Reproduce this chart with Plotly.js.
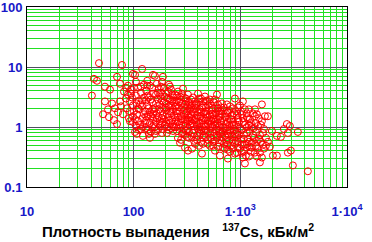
<!DOCTYPE html>
<html>
<head>
<meta charset="utf-8">
<script src="https://cdn.plot.ly/plotly-3.0.1.min.js"></script>
<style>html,body{margin:0;padding:0;background:#fff;}#chart{width:372px;height:242px;}</style>
</head>
<body>
<div id="chart"></div>
<script>
// Cs-137 deposition density, kBq/m2 (x)
const csDensity = [
47.3,42.4,45.3,40.6,53.8,60.0,69.8,74.4,53.8,57.5,66.8,62.7,51.6,58.7,65.4,74.4,71.3,79.4,69.8,77.7,
81.1,76.0,84.7,88.4,98.5,103,120,158,188,152,88.4,94.3,92.3,98.5,86.5,100.6,90.3,98.5,105,110,
117,125,112,120,128,107,122,115,110,107,122,115,105,125,96.4,84.7,112,117,103,128,
134,142,131,152,139,149,134,158,142,136,152,142,158,136,142,158,165,172,162,169,
176,165,172,162,176,169,149,131,155,145,184,192,180,196,184,201,188,180,205,192,
184,205,184,205,219,210,229,219,239,214,234,224,244,214,234,224,234,244,201,224,
290,260,272,255,284,266,296,255,278,303,260,290,272,309,260,272,303,323,309,330,
316,337,309,330,316,337,323,303,330,284,249,296,323,352,360,376,352,384,360,392,
352,384,368,401,360,392,368,401,428,410,446,418,456,428,446,410,437,456,418,446,
446,437,410,384,466,487,519,476,508,542,487,530,497,554,476,519,566,497,519,578,
604,578,617,591,630,566,617,578,630,591,644,604,554,630,542,672,644,687,658,702,
672,717,658,733,687,749,672,733,702,765,799,765,834,782,852,799,871,816,782,852,
816,890,890,765,1057,949,1013,929,1057,970,1104,991,929,1080,1013,949,1104,991,1057,1104,
1152,1203,1178,1256,1152,1230,1312,1178,1284,1152,1256,1203,1035,1370,1593,1430,1700,1813,1593,1461,
1663,1400,1526,1737,1430,1628,1461,1370,1593,1526,1813,1340,2020,2202,2732,2914,3463,2202,2400,2792,
2792,2978,3109,4296,2561,1977,1893,249,323,384,476,566,702,834,949,278,224,188,152,131,
345,428,530,658,909,201,249,309,476,733,
94.3,100.6,107,92.3,105,120,125,112,98.5,117,110,122,103,92.3,
136,145,162,139,152,131,149,165,172,155,134,169,145,162,139,176,131,
180,192,210,229,201,219,239,184,210,229,196,219,244,188,214,239,201,234,180,214,
255,278,303,266,290,316,272,296,260,323,284,309,266,296,337,255,290,316,278,330,249,337,284,
345,376,410,446,368,401,437,345,376,410,456,352,392,428,368,410,456,352,392,428,376,456,345,418,
476,519,566,617,497,542,591,476,519,630,554,497,604,476,530,578,630,497,554,604,476,530,578,497,554,617,591,
749,852,702,782,871,658,733,816,672,765,871,717,799,890,687,765,834,717,782,890,672,749,852,717,799,
991,1104,909,1035,1152,949,1080,1203,909,1035,1152,970,1080,1203,909,1035,1152,949,1080,1230,929,1128,1230,
1312,1493,1284,1559,1400,1628,1493,1340,1559,1400,1663,1284,1526,1430,1737,1370
];
// measured value (y)
const measured = [
11.6,6.35,5.89,3.34,4.70,4.19,6.85,5.26,2.67,1.97,2.05,2.47,1.63,1.46,1.30,2.67,1.76,1.63,1.12,10.8,
3.89,2.21,2.98,3.47,7.68,7.39,9.28,7.12,6.85,7.39,4.88,4.19,2.67,2.29,2.05,1.83,1.40,1.21,5.67,4.52,
3.74,3.10,2.77,2.21,1.83,1.63,1.40,1.08,1.25,0.767,0.711,2.38,3.34,5.07,3.10,4.52,1.97,0.926,1.35,1.16,
5.89,4.88,4.04,3.60,3.10,2.57,2.29,2.05,1.76,1.51,1.35,1.16,0.998,0.892,0.659,0.767,5.26,4.35,3.47,2.87,
2.38,1.69,1.46,1.21,1.04,0.892,4.52,2.77,1.83,0.827,5.67,4.52,3.74,3.22,2.77,2.47,2.12,1.83,1.63,1.35,
1.16,0.998,0.796,0.796,4.70,3.89,3.47,2.87,2.57,2.21,1.97,1.69,1.46,1.30,1.12,0.962,0.858,3.47,1.90,4.19,
4.35,3.89,3.22,2.77,2.47,2.12,1.90,1.69,1.51,1.35,1.21,1.08,0.962,0.858,0.659,0.546,0.452,3.47,2.98,2.57,
2.21,1.97,1.69,1.46,1.25,1.08,0.926,0.738,0.659,0.767,2.29,3.10,0.404,0.435,3.10,2.67,2.29,2.05,1.76,1.57,
1.35,1.21,1.04,0.926,0.796,0.711,0.589,3.60,2.98,2.57,2.29,1.97,1.76,1.51,1.30,1.16,0.998,0.858,0.767,0.659,
0.525,0.360,0.487,1.40,3.22,2.77,2.47,2.12,1.90,1.63,1.46,1.30,1.12,0.998,0.892,0.796,0.711,0.611,0.487,0.404,
3.47,2.87,2.38,2.05,1.83,1.57,1.35,1.21,1.04,0.892,0.767,0.659,0.567,0.546,2.12,2.47,0.334,0.452,2.12,1.90,
1.63,1.46,1.25,1.12,0.962,0.858,0.684,0.611,0.525,0.298,2.21,1.76,1.57,1.35,1.21,1.04,0.926,0.796,0.711,0.589,
0.487,2.98,0.360,0.419,2.67,2.12,1.83,1.57,1.40,1.21,1.08,0.962,0.827,0.738,0.635,0.567,0.506,0.435,0.310,0.247,
1.69,1.97,1.35,1.16,0.998,0.858,0.738,0.635,0.546,0.452,0.388,0.322,0.374,1.51,2.38,1.63,1.51,1.51,1.25,1.04,
0.926,0.827,0.738,0.659,0.589,0.506,0.435,0.374,0.310,0.257,0.567,0.962,0.334,0.334,1.12,1.04,0.827,0.711,0.684,0.796,
0.374,0.404,0.229,0.183,0.926,0.858,0.469,1.83,1.30,2.38,1.63,1.40,1.25,1.08,1.40,1.25,2.29,1.57,1.97,1.51,
1.63,1.76,1.12,0.827,0.684,1.21,0.998,2.67,1.30,1.69,
3.60,4.52,2.47,1.83,1.04,2.77,1.63,0.892,1.51,4.70,2.05,0.998,0.827,1.25,
3.34,2.87,2.47,2.05,1.63,1.30,0.998,1.40,1.97,1.12,4.88,3.74,1.51,0.858,0.767,1.25,0.962,
3.22,2.57,2.98,2.67,2.12,1.83,1.57,1.40,1.46,1.30,1.08,1.16,2.21,0.926,0.892,0.998,3.60,3.10,4.70,5.07,
3.34,2.87,2.38,2.57,2.12,1.83,1.83,1.63,1.46,1.57,1.35,1.12,1.08,0.926,1.25,0.858,0.827,0.684,0.611,0.827,1.25,2.38,3.60,
2.87,2.29,2.98,2.67,1.97,1.76,2.12,1.46,1.30,1.46,1.12,1.16,1.04,0.892,0.892,0.827,0.738,0.684,0.611,0.567,0.525,1.40,2.12,0.998,
2.67,2.87,2.57,2.05,2.29,1.90,1.69,1.83,1.57,1.51,1.35,1.25,1.16,1.04,0.962,1.04,0.892,0.827,0.827,0.738,0.684,0.659,0.589,0.525,0.487,0.469,1.35,
2.38,2.05,2.12,1.90,1.69,1.83,1.46,1.35,1.08,1.21,1.08,0.962,0.892,0.767,0.827,0.767,0.684,0.711,0.589,0.525,0.589,0.506,0.435,0.435,0.388,
2.29,1.97,1.83,1.63,1.46,1.30,1.21,1.08,1.08,0.892,0.796,0.738,0.635,0.567,0.589,0.506,0.525,0.452,0.404,0.469,0.374,0.334,1.35,
1.69,1.40,0.998,1.08,1.16,0.796,0.635,0.659,0.567,0.487,0.435,0.452,0.374,0.322,0.487,1.97
];
const xTickVals = [10, 100, 1000, 10000];
const xTickText = ['10', '100', '1·10<sup>3</sup>', '1·10<sup>4</sup>'];
const yTickVals = [0.1, 1, 10, 100];
const yTickText = ['0.1', '1', '10', '100'];
const xTitle = 'Плотность выпадения\u00A0\u00A0\u00A0<sup>137</sup>Cs, кБк/м<sup>2</sup>';

const fam = 'Liberation Sans, Arial, sans-serif';
const tickFont = {family: fam, size: 13, color: '#1818c8', weight: 'bold'};

const trace = {
  x: csDensity, y: measured, type: 'scatter', mode: 'markers',
  marker: {symbol: 'circle-open', size: 7, color: '#ff0000', line: {width: 1, color: '#ff0000'}},
  hoverinfo: 'skip'
};

const layout = {
  width: 372, height: 242,
  margin: {l: 27, r: 25, t: 7, b: 55},
  paper_bgcolor: '#ffffff', plot_bgcolor: '#ffffff',
  showlegend: false,
  xaxis: {
    type: 'log', range: [1, 4], tickvals: xTickVals, ticktext: xTickText,
    showgrid: true, gridcolor: '#505060', gridwidth: 1,
    minor: {dtick: 'D1', showgrid: true, gridcolor: '#22e022', gridwidth: 1, ticks: ''},
    showline: true, linecolor: '#000000', linewidth: 1, mirror: true, zeroline: false,
    ticks: 'outside', ticklen: 12, tickcolor: 'rgba(0,0,0,0)',
    ticklabeloverflow: 'allow',
    tickfont: tickFont
  },
  yaxis: {
    type: 'log', range: [-1, 2], tickvals: yTickVals, ticktext: yTickText,
    showgrid: true, gridcolor: '#505060', gridwidth: 1,
    minor: {dtick: 'D1', showgrid: true, gridcolor: '#22e022', gridwidth: 1, ticks: ''},
    showline: true, linecolor: '#000000', linewidth: 1, mirror: true, zeroline: false,
    ticks: 'outside', ticklen: 1, tickcolor: 'rgba(0,0,0,0)',
    ticklabeloverflow: 'allow',
    tickfont: tickFont
  },
  annotations: [{
    text: xTitle, xref: 'paper', yref: 'paper', x: 0.472, y: -0.24,
    xanchor: 'center', yanchor: 'middle', showarrow: false,
    font: {family: fam, size: 15, color: '#000000', weight: 'bold'}
  }]
};

Plotly.newPlot('chart', [trace], layout, {staticPlot: true, displayModeBar: false});
</script>
</body>
</html>
